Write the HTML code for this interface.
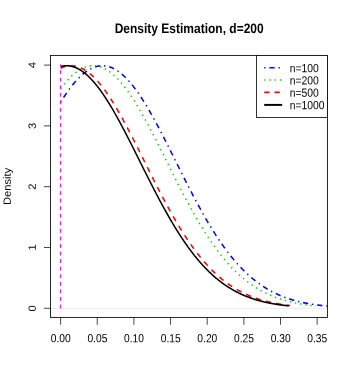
<!DOCTYPE html><html><head><meta charset="utf-8"><style>html,body{margin:0;padding:0;background:#fff}svg{display:block}text{font-family:"Liberation Sans",sans-serif;fill:#000;text-rendering:geometricPrecision}</style></head><body>
<svg width="353" height="387" viewBox="0 0 353 387">
<rect width="353" height="387" fill="#fff"/>
<line x1="50.50" y1="308.30" x2="327.40" y2="308.30" stroke="#bebebe" stroke-width="0.3"/>
<g transform="scale(0.6500,0.7080)" fill="none" stroke-width="2.25" stroke-linecap="butt" stroke-linejoin="round">
<path d="M93.23,144.23 L94.26,142.73 L95.28,141.24 L96.31,139.77 L97.33,138.32 L98.36,136.89 L99.38,135.47 L100.41,134.08 L101.43,132.70 L102.46,131.34 L103.48,130.00 L104.51,128.68 L105.54,127.38 L106.56,126.10 L107.59,124.84 L108.61,123.60 L109.64,122.38 L110.66,121.18 L111.69,120.00 L112.71,118.85 L113.74,117.72 L114.76,116.61 L115.79,115.52 L116.81,114.45 L117.84,113.41 L118.86,112.39 L119.89,111.40 L120.92,110.43 L121.94,109.48 L122.97,108.56 L123.99,107.66 L125.02,106.79 L126.04,105.94 L127.07,105.12 L128.09,104.32 L129.12,103.54 L130.14,102.80 L131.17,102.08 L132.19,101.38 L133.22,100.71 L134.24,100.07 L135.27,99.46 L136.30,98.87 L137.32,98.30 L138.35,97.77 L139.37,97.26 L140.40,96.78 L141.42,96.33 L142.45,95.90 L143.47,95.50 L144.50,95.13 L145.52,94.79 L146.55,94.47 L147.57,94.18 L148.60,93.93 L149.63,93.69 L150.65,93.49 L151.68,93.32 L152.70,93.17 L153.73,93.05 L154.75,92.96 L155.78,92.90 L156.80,92.86 L157.83,92.86 L158.85,92.88 L159.88,92.93 L160.90,93.01 L161.93,93.12 L162.95,93.26 L163.98,93.42 L165.01,93.61 L166.03,93.83 L167.06,94.08 L168.08,94.36 L169.11,94.66 L170.13,95.00 L171.16,95.36 L172.18,95.75 L173.21,96.16 L174.23,96.60 L175.26,97.08 L176.28,97.57 L177.31,98.10 L178.34,98.65 L179.36,99.23 L180.39,99.83 L181.41,100.47 L182.44,101.13 L183.46,101.81 L184.49,102.52 L185.51,103.26 L186.54,104.02 L187.56,104.81 L188.59,105.62 L189.61,106.46 L190.64,107.33 L191.66,108.22 L192.69,109.13 L193.72,110.07 L194.74,111.03 L195.77,112.02 L196.79,113.03 L197.82,114.06 L198.84,115.11 L199.87,116.19 L200.89,117.29 L201.92,118.42 L202.94,119.57 L203.97,120.73 L204.99,121.92 L206.02,123.13 L207.05,124.37 L208.07,125.62 L209.10,126.89 L210.12,128.19 L211.15,129.50 L212.17,130.83 L213.20,132.18 L214.22,133.56 L215.25,134.94 L216.27,136.35 L217.30,137.78 L218.32,139.22 L219.35,140.68 L220.37,142.16 L221.40,143.66 L222.43,145.17 L223.45,146.70 L224.48,148.24 L225.50,149.80 L226.53,151.37 L227.55,152.96 L228.58,154.56 L229.60,156.18 L230.63,157.81 L231.65,159.45 L232.68,161.11 L233.70,162.78 L234.73,164.46 L235.76,166.15 L236.78,167.86 L237.81,169.57 L238.83,171.30 L239.86,173.04 L240.88,174.78 L241.91,176.54 L242.93,178.31 L243.96,180.08 L244.98,181.87 L246.01,183.66 L247.03,185.46 L248.06,187.27 L249.08,189.08 L250.11,190.91 L251.14,192.74 L252.16,194.57 L253.19,196.41 L254.21,198.26 L255.24,200.11 L256.26,201.97 L257.29,203.83 L258.31,205.69 L259.34,207.56 L260.36,209.44 L261.39,211.31 L262.41,213.19 L263.44,215.07 L264.46,216.96 L265.49,218.84 L266.52,220.73 L267.54,222.61 L268.57,224.50 L269.59,226.39 L270.62,228.28 L271.64,230.17 L272.67,232.06 L273.69,233.95 L274.72,235.84 L275.74,237.72 L276.77,239.61 L277.79,241.49 L278.82,243.37 L279.85,245.24 L280.87,247.12 L281.90,248.99 L282.92,250.86 L283.95,252.72 L284.97,254.59 L286.00,256.44 L287.02,258.29 L288.05,260.14 L289.07,261.98 L290.10,263.82 L291.12,265.65 L292.15,267.48 L293.17,269.30 L294.20,271.12 L295.23,272.92 L296.25,274.72 L297.28,276.52 L298.30,278.31 L299.33,280.09 L300.35,281.86 L301.38,283.62 L302.40,285.38 L303.43,287.13 L304.45,288.87 L305.48,290.60 L306.50,292.33 L307.53,294.04 L308.56,295.75 L309.58,297.45 L310.61,299.13 L311.63,300.81 L312.66,302.48 L313.68,304.14 L314.71,305.79 L315.73,307.42 L316.76,309.05 L317.78,310.67 L318.81,312.28 L319.83,313.87 L320.86,315.46 L321.88,317.04 L322.91,318.60 L323.94,320.15 L324.96,321.69 L325.99,323.22 L327.01,324.74 L328.04,326.25 L329.06,327.75 L330.09,329.23 L331.11,330.70 L332.14,332.16 L333.16,333.61 L334.19,335.05 L335.21,336.47 L336.24,337.88 L337.27,339.28 L338.29,340.67 L339.32,342.05 L340.34,343.41 L341.37,344.76 L342.39,346.10 L343.42,347.42 L344.44,348.74 L345.47,350.04 L346.49,351.33 L347.52,352.60 L348.54,353.86 L349.57,355.11 L350.59,356.35 L351.62,357.58 L352.65,358.79 L353.67,359.99 L354.70,361.18 L355.72,362.35 L356.75,363.51 L357.77,364.66 L358.80,365.80 L359.82,366.92 L360.85,368.04 L361.87,369.13 L362.90,370.22 L363.92,371.30 L364.95,372.36 L365.97,373.41 L367.00,374.44 L368.03,375.47 L369.05,376.48 L370.08,377.48 L371.10,378.47 L372.13,379.44 L373.15,380.40 L374.18,381.36 L375.20,382.29 L376.23,383.22 L377.25,384.14 L378.28,385.04 L379.30,385.93 L380.33,386.81 L381.36,387.68 L382.38,388.54 L383.41,389.38 L384.43,390.21 L385.46,391.04 L386.48,391.85 L387.51,392.65 L388.53,393.43 L389.56,394.21 L390.58,394.98 L391.61,395.73 L392.63,396.48 L393.66,397.21 L394.68,397.93 L395.71,398.65 L396.74,399.35 L397.76,400.04 L398.79,400.72 L399.81,401.39 L400.84,402.05 L401.86,402.70 L402.89,403.34 L403.91,403.97 L404.94,404.59 L405.96,405.20 L406.99,405.80 L408.01,406.40 L409.04,406.98 L410.07,407.55 L411.09,408.11 L412.12,408.67 L413.14,409.21 L414.17,409.75 L415.19,410.28 L416.22,410.80 L417.24,411.31 L418.27,411.81 L419.29,412.30 L420.32,412.78 L421.34,413.26 L422.37,413.73 L423.39,414.19 L424.42,414.64 L425.45,415.08 L426.47,415.52 L427.50,415.95 L428.52,416.37 L429.55,416.78 L430.57,417.19 L431.60,417.59 L432.62,417.98 L433.65,418.36 L434.67,418.74 L435.70,419.11 L436.72,419.47 L437.75,419.83 L438.78,420.18 L439.80,420.52 L440.83,420.86 L441.85,421.19 L442.88,421.51 L443.90,421.83 L444.93,422.14 L445.95,422.45 L446.98,422.75 L448.00,423.04 L449.03,423.33 L450.05,423.61 L451.08,423.89 L452.10,424.16 L453.13,424.42 L454.16,424.68 L455.18,424.94 L456.21,425.19 L457.23,425.43 L458.26,425.67 L459.28,425.91 L460.31,426.14 L461.33,426.36 L462.36,426.58 L463.38,426.80 L464.41,427.01 L465.43,427.22 L466.46,427.42 L467.49,427.62 L468.51,427.81 L469.54,428.00 L470.56,428.18 L471.59,428.37 L472.61,428.54 L473.64,428.72 L474.66,428.89 L475.69,429.05 L476.71,429.22 L477.74,429.37 L478.76,429.53 L479.79,429.68 L480.81,429.83 L481.84,429.97 L482.87,430.12 L483.89,430.25 L484.92,430.39 L485.94,430.52 L486.97,430.65 L487.99,430.78 L489.02,430.90 L490.04,431.02 L491.07,431.14 L492.09,431.25 L493.12,431.36 L494.14,431.47 L495.17,431.58 L496.19,431.68 L497.22,431.79 L498.25,431.89 L499.27,431.98 L500.30,432.08 L501.32,432.17 L502.35,432.26 L503.37,432.35" stroke="#0000ff" stroke-dasharray="2,6,8,6"/>
<path d="M93.23,125.15 L94.21,123.96 L95.20,122.79 L96.18,121.63 L97.16,120.50 L98.14,119.38 L99.13,118.28 L100.11,117.21 L101.09,116.15 L102.07,115.12 L103.06,114.11 L104.04,113.12 L105.02,112.15 L106.00,111.20 L106.99,110.27 L107.97,109.37 L108.95,108.49 L109.93,107.63 L110.92,106.79 L111.90,105.98 L112.88,105.19 L113.86,104.42 L114.85,103.68 L115.83,102.96 L116.81,102.26 L117.79,101.59 L118.78,100.94 L119.76,100.31 L120.74,99.71 L121.72,99.14 L122.71,98.58 L123.69,98.06 L124.67,97.56 L125.65,97.08 L126.64,96.63 L127.62,96.20 L128.60,95.80 L129.58,95.42 L130.57,95.07 L131.55,94.75 L132.53,94.45 L133.51,94.18 L134.50,93.93 L135.48,93.70 L136.46,93.51 L137.44,93.34 L138.43,93.19 L139.41,93.07 L140.39,92.98 L141.37,92.91 L142.36,92.87 L143.34,92.86 L144.32,92.87 L145.30,92.91 L146.29,92.97 L147.27,93.06 L148.25,93.17 L149.23,93.31 L150.22,93.48 L151.20,93.67 L152.18,93.89 L153.16,94.14 L154.15,94.41 L155.13,94.70 L156.11,95.02 L157.09,95.37 L158.08,95.74 L159.06,96.14 L160.04,96.56 L161.02,97.01 L162.01,97.48 L162.99,97.98 L163.97,98.50 L164.95,99.05 L165.94,99.62 L166.92,100.22 L167.90,100.84 L168.88,101.49 L169.87,102.15 L170.85,102.85 L171.83,103.56 L172.81,104.31 L173.80,105.07 L174.78,105.86 L175.76,106.67 L176.74,107.50 L177.73,108.36 L178.71,109.23 L179.69,110.13 L180.67,111.06 L181.66,112.00 L182.64,112.97 L183.62,113.96 L184.60,114.97 L185.59,116.00 L186.57,117.05 L187.55,118.12 L188.53,119.21 L189.52,120.32 L190.50,121.46 L191.48,122.61 L192.46,123.78 L193.45,124.97 L194.43,126.18 L195.41,127.41 L196.39,128.66 L197.38,129.92 L198.36,131.20 L199.34,132.50 L200.32,133.82 L201.31,135.16 L202.29,136.51 L203.27,137.87 L204.25,139.26 L205.24,140.66 L206.22,142.08 L207.20,143.51 L208.18,144.95 L209.17,146.41 L210.15,147.89 L211.13,149.38 L212.11,150.88 L213.10,152.40 L214.08,153.93 L215.06,155.47 L216.04,157.03 L217.03,158.60 L218.01,160.18 L218.99,161.77 L219.97,163.37 L220.96,164.99 L221.94,166.62 L222.92,168.25 L223.90,169.90 L224.89,171.55 L225.87,173.22 L226.85,174.90 L227.83,176.58 L228.82,178.27 L229.80,179.97 L230.78,181.68 L231.76,183.40 L232.75,185.12 L233.73,186.85 L234.71,188.59 L235.69,190.34 L236.68,192.09 L237.66,193.84 L238.64,195.61 L239.62,197.37 L240.61,199.14 L241.59,200.92 L242.57,202.70 L243.55,204.49 L244.54,206.28 L245.52,208.07 L246.50,209.86 L247.48,211.66 L248.47,213.46 L249.45,215.26 L250.43,217.07 L251.41,218.88 L252.40,220.68 L253.38,222.49 L254.36,224.30 L255.34,226.11 L256.33,227.92 L257.31,229.73 L258.29,231.54 L259.27,233.35 L260.26,235.16 L261.24,236.97 L262.22,238.77 L263.20,240.58 L264.19,242.38 L265.17,244.18 L266.15,245.98 L267.13,247.78 L268.12,249.57 L269.10,251.36 L270.08,253.14 L271.06,254.93 L272.05,256.70 L273.03,258.48 L274.01,260.25 L274.99,262.01 L275.98,263.77 L276.96,265.53 L277.94,267.28 L278.92,269.03 L279.91,270.77 L280.89,272.50 L281.87,274.23 L282.85,275.95 L283.84,277.66 L284.82,279.37 L285.80,281.07 L286.78,282.77 L287.77,284.46 L288.75,286.14 L289.73,287.81 L290.71,289.47 L291.70,291.13 L292.68,292.78 L293.66,294.42 L294.64,296.06 L295.63,297.68 L296.61,299.30 L297.59,300.90 L298.57,302.50 L299.56,304.09 L300.54,305.67 L301.52,307.24 L302.50,308.80 L303.49,310.35 L304.47,311.90 L305.45,313.43 L306.43,314.95 L307.42,316.46 L308.40,317.97 L309.38,319.46 L310.36,320.94 L311.35,322.41 L312.33,323.88 L313.31,325.33 L314.29,326.77 L315.28,328.20 L316.26,329.61 L317.24,331.02 L318.22,332.42 L319.21,333.81 L320.19,335.18 L321.17,336.54 L322.15,337.90 L323.14,339.24 L324.12,340.57 L325.10,341.89 L326.08,343.20 L327.07,344.49 L328.05,345.78 L329.03,347.05 L330.01,348.31 L331.00,349.56 L331.98,350.80 L332.96,352.03 L333.94,353.25 L334.93,354.45 L335.91,355.64 L336.89,356.82 L337.87,357.99 L338.86,359.15 L339.84,360.30 L340.82,361.43 L341.80,362.56 L342.79,363.67 L343.77,364.77 L344.75,365.86 L345.73,366.93 L346.72,368.00 L347.70,369.05 L348.68,370.09 L349.66,371.12 L350.65,372.14 L351.63,373.15 L352.61,374.15 L353.59,375.13 L354.58,376.11 L355.56,377.07 L356.54,378.02 L357.52,378.96 L358.51,379.89 L359.49,380.81 L360.47,381.71 L361.45,382.61 L362.44,383.49 L363.42,384.37 L364.40,385.23 L365.38,386.08 L366.37,386.92 L367.35,387.75 L368.33,388.57 L369.31,389.38 L370.30,390.18 L371.28,390.97 L372.26,391.75 L373.24,392.52 L374.23,393.27 L375.21,394.02 L376.19,394.76 L377.17,395.48 L378.16,396.20 L379.14,396.91 L380.12,397.61 L381.10,398.29 L382.09,398.97 L383.07,399.64 L384.05,400.30 L385.03,400.95 L386.02,401.58 L387.00,402.21 L387.98,402.84 L388.96,403.45 L389.95,404.05 L390.93,404.64 L391.91,405.23 L392.89,405.80 L393.88,406.37 L394.86,406.93 L395.84,407.48 L396.82,408.02 L397.81,408.55 L398.79,409.08 L399.77,409.59 L400.75,410.10 L401.74,410.60 L402.72,411.09 L403.70,411.58 L404.68,412.05 L405.67,412.52 L406.65,412.98 L407.63,413.44 L408.61,413.88 L409.60,414.32 L410.58,414.75 L411.56,415.18 L412.54,415.59 L413.53,416.00 L414.51,416.40 L415.49,416.80 L416.47,417.19 L417.46,417.57 L418.44,417.95 L419.42,418.31 L420.40,418.68 L421.39,419.03 L422.37,419.38 L423.35,419.72 L424.33,420.06 L425.32,420.39 L426.30,420.72 L427.28,421.04 L428.26,421.35 L429.25,421.66 L430.23,421.96 L431.21,422.26 L432.19,422.55 L433.18,422.83 L434.16,423.11 L435.14,423.39 L436.12,423.66 L437.11,423.92 L438.09,424.18 L439.07,424.43 L440.05,424.68 L441.04,424.93 L442.02,425.17 L443.00,425.40 L443.98,425.63 L444.97,425.86 L445.95,426.08 L446.93,426.30 L447.91,426.51 L448.90,426.72 L449.88,426.92 L450.86,427.12 L451.84,427.32 L452.83,427.51 L453.81,427.70 L454.79,427.88 L455.77,428.06 L456.76,428.24 L457.74,428.41 L458.72,428.58 L459.70,428.74 L460.69,428.91 L461.67,429.07 L462.65,429.22 L463.63,429.37 L464.62,429.52 L465.60,429.67 L466.58,429.81 L467.56,429.95 L468.55,430.09 L469.53,430.22 L470.51,430.35 L471.49,430.48 L472.48,430.60 L473.46,430.72 L474.44,430.84 L475.42,430.96 L476.41,431.07 L477.39,431.18 L478.37,431.29 L479.35,431.40 L480.34,431.50 L481.32,431.61 L482.30,431.70 L483.28,431.80 L484.27,431.90 L485.25,431.99 L486.23,432.08" stroke="#00d400" stroke-dasharray="2,6"/>
<path d="M93.23,96.29 L94.11,95.93 L95.00,95.58 L95.88,95.26 L96.76,94.95 L97.64,94.67 L98.53,94.40 L99.41,94.16 L100.29,93.94 L101.18,93.73 L102.06,93.55 L102.94,93.39 L103.82,93.25 L104.71,93.13 L105.59,93.04 L106.47,92.96 L107.35,92.91 L108.24,92.87 L109.12,92.86 L110.00,92.87 L110.88,92.89 L111.77,92.94 L112.65,93.01 L113.53,93.11 L114.42,93.22 L115.30,93.35 L116.18,93.51 L117.06,93.68 L117.95,93.88 L118.83,94.09 L119.71,94.33 L120.59,94.59 L121.48,94.87 L122.36,95.17 L123.24,95.49 L124.13,95.83 L125.01,96.19 L125.89,96.57 L126.77,96.97 L127.66,97.39 L128.54,97.84 L129.42,98.30 L130.30,98.78 L131.19,99.28 L132.07,99.80 L132.95,100.35 L133.84,100.91 L134.72,101.49 L135.60,102.09 L136.48,102.71 L137.37,103.35 L138.25,104.00 L139.13,104.68 L140.01,105.38 L140.90,106.09 L141.78,106.82 L142.66,107.57 L143.54,108.34 L144.43,109.13 L145.31,109.94 L146.19,110.76 L147.08,111.60 L147.96,112.46 L148.84,113.34 L149.72,114.23 L150.61,115.14 L151.49,116.07 L152.37,117.02 L153.25,117.98 L154.14,118.96 L155.02,119.95 L155.90,120.96 L156.79,121.99 L157.67,123.03 L158.55,124.09 L159.43,125.16 L160.32,126.25 L161.20,127.35 L162.08,128.47 L162.96,129.61 L163.85,130.75 L164.73,131.92 L165.61,133.09 L166.49,134.28 L167.38,135.49 L168.26,136.70 L169.14,137.93 L170.03,139.18 L170.91,140.43 L171.79,141.70 L172.67,142.98 L173.56,144.28 L174.44,145.58 L175.32,146.90 L176.20,148.23 L177.09,149.57 L177.97,150.92 L178.85,152.28 L179.74,153.66 L180.62,155.04 L181.50,156.44 L182.38,157.84 L183.27,159.26 L184.15,160.68 L185.03,162.11 L185.91,163.55 L186.80,165.01 L187.68,166.47 L188.56,167.94 L189.45,169.41 L190.33,170.90 L191.21,172.39 L192.09,173.89 L192.98,175.40 L193.86,176.91 L194.74,178.43 L195.62,179.96 L196.51,181.50 L197.39,183.04 L198.27,184.59 L199.15,186.14 L200.04,187.70 L200.92,189.26 L201.80,190.83 L202.69,192.41 L203.57,193.98 L204.45,195.57 L205.33,197.16 L206.22,198.75 L207.10,200.34 L207.98,201.94 L208.86,203.54 L209.75,205.15 L210.63,206.76 L211.51,208.37 L212.40,209.98 L213.28,211.59 L214.16,213.21 L215.04,214.83 L215.93,216.45 L216.81,218.08 L217.69,219.70 L218.57,221.32 L219.46,222.95 L220.34,224.57 L221.22,226.20 L222.11,227.83 L222.99,229.45 L223.87,231.08 L224.75,232.71 L225.64,234.33 L226.52,235.96 L227.40,237.58 L228.28,239.20 L229.17,240.82 L230.05,242.44 L230.93,244.06 L231.81,245.67 L232.70,247.29 L233.58,248.90 L234.46,250.51 L235.35,252.11 L236.23,253.72 L237.11,255.32 L237.99,256.91 L238.88,258.51 L239.76,260.10 L240.64,261.69 L241.52,263.27 L242.41,264.85 L243.29,266.42 L244.17,267.99 L245.06,269.56 L245.94,271.12 L246.82,272.68 L247.70,274.23 L248.59,275.78 L249.47,277.32 L250.35,278.85 L251.23,280.39 L252.12,281.91 L253.00,283.43 L253.88,284.94 L254.77,286.45 L255.65,287.95 L256.53,289.45 L257.41,290.94 L258.30,292.42 L259.18,293.90 L260.06,295.37 L260.94,296.83 L261.83,298.29 L262.71,299.74 L263.59,301.18 L264.47,302.61 L265.36,304.04 L266.24,305.46 L267.12,306.88 L268.01,308.28 L268.89,309.68 L269.77,311.07 L270.65,312.45 L271.54,313.82 L272.42,315.19 L273.30,316.55 L274.18,317.90 L275.07,319.24 L275.95,320.57 L276.83,321.90 L277.72,323.22 L278.60,324.52 L279.48,325.82 L280.36,327.11 L281.25,328.40 L282.13,329.67 L283.01,330.94 L283.89,332.19 L284.78,333.44 L285.66,334.68 L286.54,335.91 L287.43,337.13 L288.31,338.34 L289.19,339.54 L290.07,340.74 L290.96,341.92 L291.84,343.09 L292.72,344.26 L293.60,345.42 L294.49,346.57 L295.37,347.70 L296.25,348.83 L297.13,349.95 L298.02,351.06 L298.90,352.16 L299.78,353.26 L300.67,354.34 L301.55,355.41 L302.43,356.47 L303.31,357.53 L304.20,358.57 L305.08,359.61 L305.96,360.64 L306.84,361.65 L307.73,362.66 L308.61,363.66 L309.49,364.65 L310.38,365.63 L311.26,366.60 L312.14,367.56 L313.02,368.51 L313.91,369.45 L314.79,370.38 L315.67,371.31 L316.55,372.22 L317.44,373.13 L318.32,374.02 L319.20,374.91 L320.08,375.79 L320.97,376.66 L321.85,377.52 L322.73,378.37 L323.62,379.21 L324.50,380.04 L325.38,380.86 L326.26,381.68 L327.15,382.48 L328.03,383.28 L328.91,384.07 L329.79,384.85 L330.68,385.62 L331.56,386.38 L332.44,387.13 L333.33,387.88 L334.21,388.61 L335.09,389.34 L335.97,390.06 L336.86,390.77 L337.74,391.47 L338.62,392.16 L339.50,392.85 L340.39,393.53 L341.27,394.19 L342.15,394.85 L343.04,395.51 L343.92,396.15 L344.80,396.79 L345.68,397.42 L346.57,398.04 L347.45,398.65 L348.33,399.25 L349.21,399.85 L350.10,400.44 L350.98,401.02 L351.86,401.59 L352.74,402.16 L353.63,402.72 L354.51,403.27 L355.39,403.82 L356.28,404.35 L357.16,404.88 L358.04,405.40 L358.92,405.92 L359.81,406.43 L360.69,406.93 L361.57,407.42 L362.45,407.91 L363.34,408.39 L364.22,408.87 L365.10,409.33 L365.99,409.79 L366.87,410.25 L367.75,410.69 L368.63,411.14 L369.52,411.57 L370.40,412.00 L371.28,412.42 L372.16,412.84 L373.05,413.25 L373.93,413.65 L374.81,414.05 L375.70,414.44 L376.58,414.82 L377.46,415.20 L378.34,415.58 L379.23,415.95 L380.11,416.31 L380.99,416.67 L381.87,417.02 L382.76,417.36 L383.64,417.71 L384.52,418.04 L385.40,418.37 L386.29,418.70 L387.17,419.02 L388.05,419.33 L388.94,419.64 L389.82,419.94 L390.70,420.24 L391.58,420.54 L392.47,420.83 L393.35,421.11 L394.23,421.39 L395.11,421.67 L396.00,421.94 L396.88,422.21 L397.76,422.47 L398.65,422.73 L399.53,422.98 L400.41,423.23 L401.29,423.47 L402.18,423.72 L403.06,423.95 L403.94,424.18 L404.82,424.41 L405.71,424.64 L406.59,424.86 L407.47,425.07 L408.36,425.29 L409.24,425.50 L410.12,425.70 L411.00,425.90 L411.89,426.10 L412.77,426.30 L413.65,426.49 L414.53,426.68 L415.42,426.86 L416.30,427.04 L417.18,427.22 L418.06,427.39 L418.95,427.56 L419.83,427.73 L420.71,427.90 L421.60,428.06 L422.48,428.22 L423.36,428.37 L424.24,428.53 L425.13,428.68 L426.01,428.82 L426.89,428.97 L427.77,429.11 L428.66,429.25 L429.54,429.38 L430.42,429.52 L431.31,429.65 L432.19,429.78 L433.07,429.90 L433.95,430.03 L434.84,430.15 L435.72,430.27 L436.60,430.38 L437.48,430.50 L438.37,430.61 L439.25,430.72 L440.13,430.83 L441.02,430.93 L441.90,431.03 L442.78,431.13 L443.66,431.23 L444.55,431.33 L445.43,431.43 L446.31,431.52" stroke="#ff0000" stroke-dasharray="8,8"/>
<path d="M93.23,93.95 L94.11,93.75 L94.99,93.57 L95.86,93.41 L96.74,93.27 L97.62,93.15 L98.49,93.05 L99.37,92.97 L100.25,92.91 L101.13,92.87 L102.00,92.86 L102.88,92.86 L103.76,92.89 L104.64,92.93 L105.51,93.00 L106.39,93.09 L107.27,93.20 L108.15,93.32 L109.02,93.47 L109.90,93.64 L110.78,93.84 L111.66,94.05 L112.53,94.28 L113.41,94.53 L114.29,94.80 L115.16,95.10 L116.04,95.41 L116.92,95.74 L117.80,96.10 L118.67,96.47 L119.55,96.86 L120.43,97.28 L121.31,97.71 L122.18,98.17 L123.06,98.64 L123.94,99.13 L124.82,99.65 L125.69,100.18 L126.57,100.73 L127.45,101.30 L128.32,101.89 L129.20,102.50 L130.08,103.13 L130.96,103.78 L131.83,104.44 L132.71,105.13 L133.59,105.83 L134.47,106.55 L135.34,107.29 L136.22,108.05 L137.10,108.83 L137.98,109.62 L138.85,110.43 L139.73,111.26 L140.61,112.11 L141.48,112.98 L142.36,113.86 L143.24,114.76 L144.12,115.67 L144.99,116.60 L145.87,117.55 L146.75,118.52 L147.63,119.50 L148.50,120.49 L149.38,121.51 L150.26,122.54 L151.14,123.58 L152.01,124.64 L152.89,125.71 L153.77,126.80 L154.64,127.91 L155.52,129.03 L156.40,130.16 L157.28,131.31 L158.15,132.47 L159.03,133.64 L159.91,134.83 L160.79,136.04 L161.66,137.25 L162.54,138.48 L163.42,139.72 L164.30,140.98 L165.17,142.24 L166.05,143.52 L166.93,144.81 L167.81,146.11 L168.68,147.43 L169.56,148.75 L170.44,150.09 L171.31,151.44 L172.19,152.80 L173.07,154.17 L173.95,155.55 L174.82,156.94 L175.70,158.34 L176.58,159.74 L177.46,161.16 L178.33,162.59 L179.21,164.03 L180.09,165.47 L180.97,166.93 L181.84,168.39 L182.72,169.86 L183.60,171.34 L184.47,172.82 L185.35,174.32 L186.23,175.82 L187.11,177.33 L187.98,178.84 L188.86,180.36 L189.74,181.89 L190.62,183.42 L191.49,184.96 L192.37,186.51 L193.25,188.06 L194.13,189.61 L195.00,191.17 L195.88,192.74 L196.76,194.31 L197.63,195.88 L198.51,197.46 L199.39,199.04 L200.27,200.63 L201.14,202.22 L202.02,203.81 L202.90,205.41 L203.78,207.01 L204.65,208.61 L205.53,210.21 L206.41,211.82 L207.29,213.43 L208.16,215.04 L209.04,216.65 L209.92,218.26 L210.79,219.87 L211.67,221.49 L212.55,223.10 L213.43,224.72 L214.30,226.34 L215.18,227.95 L216.06,229.57 L216.94,231.19 L217.81,232.80 L218.69,234.42 L219.57,236.03 L220.45,237.65 L221.32,239.26 L222.20,240.87 L223.08,242.48 L223.96,244.09 L224.83,245.69 L225.71,247.30 L226.59,248.90 L227.46,250.50 L228.34,252.09 L229.22,253.69 L230.10,255.28 L230.97,256.86 L231.85,258.45 L232.73,260.03 L233.61,261.61 L234.48,263.18 L235.36,264.75 L236.24,266.31 L237.12,267.88 L237.99,269.43 L238.87,270.99 L239.75,272.53 L240.62,274.08 L241.50,275.61 L242.38,277.15 L243.26,278.68 L244.13,280.20 L245.01,281.71 L245.89,283.23 L246.77,284.73 L247.64,286.23 L248.52,287.73 L249.40,289.21 L250.28,290.69 L251.15,292.17 L252.03,293.64 L252.91,295.10 L253.78,296.56 L254.66,298.00 L255.54,299.45 L256.42,300.88 L257.29,302.31 L258.17,303.73 L259.05,305.14 L259.93,306.55 L260.80,307.95 L261.68,309.34 L262.56,310.72 L263.44,312.10 L264.31,313.46 L265.19,314.82 L266.07,316.18 L266.95,317.52 L267.82,318.86 L268.70,320.18 L269.58,321.50 L270.45,322.81 L271.33,324.12 L272.21,325.41 L273.09,326.70 L273.96,327.98 L274.84,329.24 L275.72,330.50 L276.60,331.76 L277.47,333.00 L278.35,334.23 L279.23,335.46 L280.11,336.68 L280.98,337.88 L281.86,339.08 L282.74,340.27 L283.61,341.45 L284.49,342.62 L285.37,343.79 L286.25,344.94 L287.12,346.08 L288.00,347.22 L288.88,348.35 L289.76,349.46 L290.63,350.57 L291.51,351.67 L292.39,352.76 L293.27,353.84 L294.14,354.91 L295.02,355.97 L295.90,357.02 L296.77,358.07 L297.65,359.10 L298.53,360.12 L299.41,361.14 L300.28,362.15 L301.16,363.14 L302.04,364.13 L302.92,365.11 L303.79,366.08 L304.67,367.04 L305.55,367.99 L306.43,368.93 L307.30,369.86 L308.18,370.79 L309.06,371.70 L309.93,372.61 L310.81,373.50 L311.69,374.39 L312.57,375.27 L313.44,376.14 L314.32,376.99 L315.20,377.85 L316.08,378.69 L316.95,379.52 L317.83,380.34 L318.71,381.16 L319.59,381.97 L320.46,382.76 L321.34,383.55 L322.22,384.33 L323.10,385.10 L323.97,385.87 L324.85,386.62 L325.73,387.37 L326.60,388.10 L327.48,388.83 L328.36,389.55 L329.24,390.26 L330.11,390.97 L330.99,391.66 L331.87,392.35 L332.75,393.03 L333.62,393.70 L334.50,394.36 L335.38,395.02 L336.26,395.66 L337.13,396.30 L338.01,396.93 L338.89,397.55 L339.76,398.17 L340.64,398.78 L341.52,399.37 L342.40,399.97 L343.27,400.55 L344.15,401.13 L345.03,401.70 L345.91,402.26 L346.78,402.81 L347.66,403.36 L348.54,403.90 L349.42,404.43 L350.29,404.96 L351.17,405.48 L352.05,405.99 L352.92,406.49 L353.80,406.99 L354.68,407.48 L355.56,407.96 L356.43,408.44 L357.31,408.91 L358.19,409.37 L359.07,409.83 L359.94,410.28 L360.82,410.73 L361.70,411.16 L362.58,411.60 L363.45,412.02 L364.33,412.44 L365.21,412.85 L366.08,413.26 L366.96,413.66 L367.84,414.06 L368.72,414.45 L369.59,414.83 L370.47,415.21 L371.35,415.58 L372.23,415.94 L373.10,416.30 L373.98,416.66 L374.86,417.01 L375.74,417.35 L376.61,417.69 L377.49,418.03 L378.37,418.35 L379.25,418.68 L380.12,418.99 L381.00,419.31 L381.88,419.62 L382.75,419.92 L383.63,420.22 L384.51,420.51 L385.39,420.80 L386.26,421.08 L387.14,421.36 L388.02,421.64 L388.90,421.91 L389.77,422.17 L390.65,422.43 L391.53,422.69 L392.41,422.94 L393.28,423.19 L394.16,423.44 L395.04,423.68 L395.91,423.91 L396.79,424.14 L397.67,424.37 L398.55,424.59 L399.42,424.81 L400.30,425.03 L401.18,425.24 L402.06,425.45 L402.93,425.66 L403.81,425.86 L404.69,426.06 L405.57,426.25 L406.44,426.44 L407.32,426.63 L408.20,426.81 L409.07,426.99 L409.95,427.17 L410.83,427.35 L411.71,427.52 L412.58,427.68 L413.46,427.85 L414.34,428.01 L415.22,428.17 L416.09,428.32 L416.97,428.48 L417.85,428.63 L418.73,428.78 L419.60,428.92 L420.48,429.06 L421.36,429.20 L422.23,429.34 L423.11,429.47 L423.99,429.60 L424.87,429.73 L425.74,429.86 L426.62,429.98 L427.50,430.10 L428.38,430.22 L429.25,430.34 L430.13,430.45 L431.01,430.56 L431.89,430.67 L432.76,430.78 L433.64,430.89 L434.52,430.99 L435.40,431.09 L436.27,431.19 L437.15,431.29 L438.03,431.38 L438.90,431.48 L439.78,431.57 L440.66,431.66 L441.54,431.74 L442.41,431.83 L443.29,431.91 L444.17,432.00" stroke="#000000"/>
</g>
<path d="M60.45,308.45 L60.45,64.4" fill="none" stroke="#ff00ff" stroke-width="1.0" stroke-dasharray="3.9,3.66"/>
<rect x="50.50" y="55.40" width="276.90" height="262.00" fill="none" stroke="#000" stroke-width="0.85"/>
<line x1="60.60" y1="317.40" x2="60.60" y2="324.80" stroke="#000" stroke-width="0.7"/>
<line x1="97.25" y1="317.40" x2="97.25" y2="324.80" stroke="#000" stroke-width="0.7"/>
<line x1="133.90" y1="317.40" x2="133.90" y2="324.80" stroke="#000" stroke-width="0.7"/>
<line x1="170.55" y1="317.40" x2="170.55" y2="324.80" stroke="#000" stroke-width="0.7"/>
<line x1="207.20" y1="317.40" x2="207.20" y2="324.80" stroke="#000" stroke-width="0.7"/>
<line x1="243.85" y1="317.40" x2="243.85" y2="324.80" stroke="#000" stroke-width="0.7"/>
<line x1="280.50" y1="317.40" x2="280.50" y2="324.80" stroke="#000" stroke-width="0.7"/>
<line x1="317.15" y1="317.40" x2="317.15" y2="324.80" stroke="#000" stroke-width="0.7"/>
<line x1="44.00" y1="308.30" x2="50.50" y2="308.30" stroke="#000" stroke-width="0.72"/>
<line x1="44.00" y1="247.50" x2="50.50" y2="247.50" stroke="#000" stroke-width="0.72"/>
<line x1="44.00" y1="186.70" x2="50.50" y2="186.70" stroke="#000" stroke-width="0.72"/>
<line x1="44.00" y1="125.90" x2="50.50" y2="125.90" stroke="#000" stroke-width="0.72"/>
<line x1="44.00" y1="65.10" x2="50.50" y2="65.10" stroke="#000" stroke-width="0.72"/>
<rect x="256.50" y="55.40" width="70.90" height="62.00" fill="#fff" stroke="#000" stroke-width="0.8"/>
<g transform="scale(0.6500,0.7080)" fill="none" stroke-width="2.25">
<line x1="406.46" y1="95.62" x2="434.15" y2="95.62" stroke="#0000ff" stroke-width="2.25" stroke-dasharray="2,6,8,6"/>
<line x1="406.46" y1="112.92" x2="434.15" y2="112.92" stroke="#00d400" stroke-width="2.25" stroke-dasharray="2,6"/>
<line x1="406.46" y1="130.51" x2="434.15" y2="130.51" stroke="#ff0000" stroke-width="2.55" stroke-dasharray="8,8"/>
<line x1="406.46" y1="148.16" x2="434.15" y2="148.16" stroke="#000000" stroke-width="2.75"/>
</g>
<defs><mask id="m"><rect width="353" height="387" fill="#fff"/></mask></defs><g mask="url(#m)">
<text font-size="10.25" text-anchor="middle" transform="translate(60.70,342.3) rotate(0.03) scale(1,1.15)">0.00</text>
<text font-size="10.25" text-anchor="middle" transform="translate(97.35,342.3) rotate(0.03) scale(1,1.15)">0.05</text>
<text font-size="10.25" text-anchor="middle" transform="translate(134.00,342.3) rotate(0.03) scale(1,1.15)">0.10</text>
<text font-size="10.25" text-anchor="middle" transform="translate(170.65,342.3) rotate(0.03) scale(1,1.15)">0.15</text>
<text font-size="10.25" text-anchor="middle" transform="translate(207.30,342.3) rotate(0.03) scale(1,1.15)">0.20</text>
<text font-size="10.25" text-anchor="middle" transform="translate(243.95,342.3) rotate(0.03) scale(1,1.15)">0.25</text>
<text font-size="10.25" text-anchor="middle" transform="translate(280.60,342.3) rotate(0.03) scale(1,1.15)">0.30</text>
<text font-size="10.25" text-anchor="middle" transform="translate(317.25,342.3) rotate(0.03) scale(1,1.15)">0.35</text>
<text font-size="10" text-anchor="middle" transform="translate(35.8,308.30) rotate(-89.97) scale(1.12,1.04)">0</text>
<text font-size="10" text-anchor="middle" transform="translate(35.8,247.50) rotate(-89.97) scale(1.12,1.04)">1</text>
<text font-size="10" text-anchor="middle" transform="translate(35.8,186.70) rotate(-89.97) scale(1.12,1.04)">2</text>
<text font-size="10" text-anchor="middle" transform="translate(35.8,125.90) rotate(-89.97) scale(1.12,1.04)">3</text>
<text font-size="10" text-anchor="middle" transform="translate(35.8,65.10) rotate(-89.97) scale(1.12,1.04)">4</text>
<text font-size="10" text-anchor="middle" transform="translate(10.7,186.4) rotate(-89.97) scale(1.12,1.04)">Density</text>
<text font-size="12" font-weight="bold" text-anchor="middle" transform="translate(189.2,32.7) rotate(0.02) scale(1,1.14)">Density Estimation, d=200</text>
<text font-size="10.35" transform="translate(289.7,72.30) rotate(0.03) scale(1,1.145)">n=100</text>
<text font-size="10.35" transform="translate(289.7,84.55) rotate(0.03) scale(1,1.145)">n=200</text>
<text font-size="10.35" transform="translate(289.7,96.85) rotate(0.03) scale(1,1.145)">n=500</text>
<text font-size="10.35" transform="translate(289.7,109.15) rotate(0.03) scale(1,1.145)">n=1000</text>
</g>
</svg></body></html>
